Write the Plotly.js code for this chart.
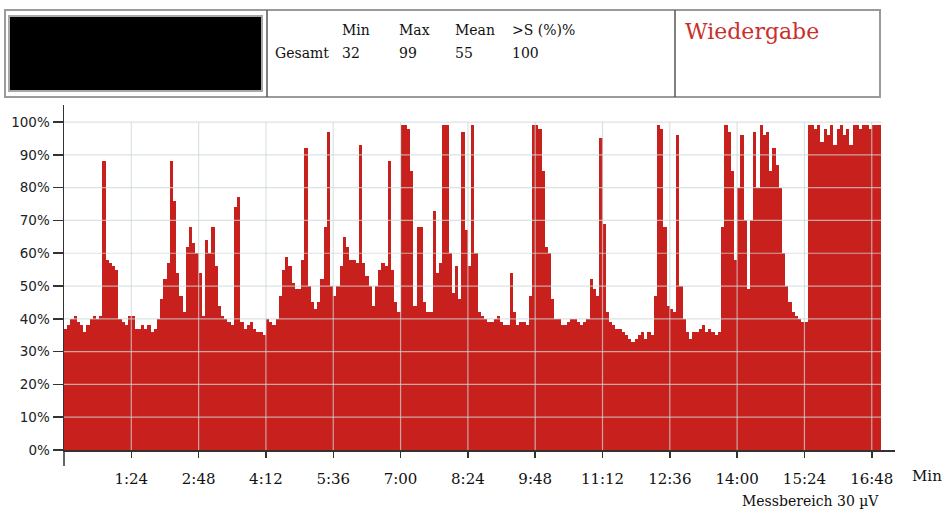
<!DOCTYPE html>
<html>
<head>
<meta charset="utf-8">
<script src="https://cdn.plot.ly/plotly-3.0.1.min.js"></script>
<style>
  html, body { margin: 0; padding: 0; background: #ffffff; }
  #chart { width: 943px; height: 512px; }
</style>
</head>
<body>
<div id="chart"></div>
<script>
// ---- data ----
const SAMPLE_SEC = 4; // one value every 4 seconds
const emgPercent = [
  37,38,40,41,39,38,36,38,40,41,
  40,41,88,58,57,56,55,40,39,38,
  41,41,37,37,38,37,38,36,37,40,
  46,52,57,88,76,54,47,42,62,68,
  63,60,54,41,64,60,68,56,44,41,
  40,39,38,74,77,39,37,38,39,37,
  36,36,35,40,39,38,40,47,55,59,
  56,51,49,49,58,92,50,45,43,45,
  52,68,97,50,47,50,56,65,62,58,
  58,57,93,57,53,50,44,50,55,57,
  56,88,55,45,42,99,99,98,85,44,
  68,68,45,42,42,73,54,57,99,99,
  60,48,56,46,97,67,56,99,60,42,
  41,40,39,39,40,41,39,38,38,54,
  42,38,39,39,38,47,99,99,98,85,
  62,60,46,40,40,38,38,39,40,40,
  39,38,39,40,52,49,47,95,69,42,
  39,38,37,37,36,35,34,33,34,35,
  36,34,36,35,47,99,98,68,44,43,
  42,96,50,40,36,34,36,36,37,38,
  36,37,36,35,36,68,99,97,85,58,
  80,96,70,49,70,97,80,99,96,97,
  85,92,87,80,60,50,45,42,41,40,
  39,39,99,99,98,99,94,98,96,99,
  93,98,99,96,98,93,99,99,98,99,
  99,98,99,99,99
];
const xTickVals = [84,168,252,336,420,504,588,672,756,840,924,1008];
const xTickText = ['1:24','2:48','4:12','5:36','7:00','8:24','9:48','11:12','12:36','14:00','15:24','16:48'];
const yTickVals = [0,10,20,30,40,50,60,70,80,90,100];
const yTickText = ['0%','10%','20%','30%','40%','50%','60%','70%','80%','90%','100%'];
const statHeaders = ['Min','Max','Mean','>S (%)%'];
const statRowLabel = 'Gesamt';
const statValues = ['32','99','55','100'];
const panelTitle = 'Wiedergabe';
const xUnit = 'Min';
const rangeNote = 'Messbereich 30 µV';

// ---- layout geometry ----
const W = 943, H = 512;
const M = { l: 64, r: 48, t: 105, b: 62 };
const PW = W - M.l - M.r, PH = H - M.t - M.b;
const fx = px => (px - M.l) / PW;
const fy = py => (H - M.b - py) / PH;

const timeSec = emgPercent.map((_, i) => i * SAMPLE_SEC);
const dataEnd = emgPercent.length * SAMPLE_SEC;

const RED = '#c8211d';
const GRID = 'rgba(205,215,215,0.72)';

const trace = {
  type: 'bar',
  x: timeSec,
  y: emgPercent,
  width: SAMPLE_SEC,
  offset: 0,
  marker: { color: RED, line: { width: 0 } },
  hoverinfo: 'skip'
};

const shapes = [];
// gridlines drawn above the fill, like the reference
yTickVals.filter(v => v > 0).forEach(v => shapes.push({
  type: 'line', xref: 'x', yref: 'y', x0: 0, x1: dataEnd, y0: v, y1: v,
  line: { color: GRID, width: 1.2 }, layer: 'above'
}));
xTickVals.forEach(v => shapes.push({
  type: 'line', xref: 'x', yref: 'y', x0: v, x1: v, y0: 0, y1: 100,
  line: { color: GRID, width: 1.2 }, layer: 'above'
}));
// y axis extension below the x axis
shapes.push({ type: 'line', xref: 'paper', yref: 'paper', x0: 0, x1: 0, y0: 0, y1: fy(466),
  line: { color: '#333', width: 1.5 } });

// header box
shapes.push({ type: 'rect', xref: 'paper', yref: 'paper',
  x0: fx(5), x1: fx(880), y0: fy(97), y1: fy(10),
  line: { color: '#9a9a9a', width: 2 }, fillcolor: 'rgba(0,0,0,0)' });
shapes.push({ type: 'rect', xref: 'paper', yref: 'paper',
  x0: fx(9), x1: fx(262), y0: fy(91), y1: fy(16),
  line: { color: '#a8a8a8', width: 2 }, fillcolor: '#000000' });
[267, 675].forEach(px => shapes.push({ type: 'line', xref: 'paper', yref: 'paper',
  x0: fx(px), x1: fx(px), y0: fy(97), y1: fy(10),
  line: { color: '#555555', width: 1.5 } }));

const serif = 'DejaVu Serif, Liberation Serif, serif';
const annotations = [];
const colX = [340, 397, 453, 510];
statHeaders.forEach((t, i) => annotations.push({
  xref: 'paper', yref: 'paper', x: fx(colX[i]), y: fy(30), xanchor: 'left', yanchor: 'middle',
  text: t, showarrow: false, font: { family: serif, size: 14, color: '#111' }
}));
annotations.push({ xref: 'paper', yref: 'paper', x: fx(273), y: fy(53), xanchor: 'left', yanchor: 'middle',
  text: statRowLabel, showarrow: false, font: { family: serif, size: 14, color: '#111' } });
statValues.forEach((t, i) => annotations.push({
  xref: 'paper', yref: 'paper', x: fx(colX[i]), y: fy(53), xanchor: 'left', yanchor: 'middle',
  text: t, showarrow: false, font: { family: serif, size: 14, color: '#111' }
}));
annotations.push({ xref: 'paper', yref: 'paper', x: fx(683), y: fy(31), xanchor: 'left', yanchor: 'middle',
  text: panelTitle, showarrow: false, font: { family: serif, size: 22, color: '#c8302c' } });
annotations.push({ xref: 'paper', yref: 'paper', x: fx(910), y: fy(476), xanchor: 'left', yanchor: 'middle',
  text: xUnit, showarrow: false, font: { family: serif, size: 15, color: '#111' } });
annotations.push({ xref: 'paper', yref: 'paper', x: fx(740), y: fy(501), xanchor: 'left', yanchor: 'middle',
  text: rangeNote, showarrow: false, font: { family: serif, size: 14, color: '#111' } });

const layout = {
  width: W, height: H,
  margin: M,
  paper_bgcolor: '#ffffff', plot_bgcolor: '#ffffff',
  showlegend: false,
  bargap: 0,
  xaxis: {
    range: [0, 1037], tickmode: 'array', tickvals: xTickVals, ticktext: xTickText,
    showgrid: false, zeroline: false, showline: true, linecolor: '#333', linewidth: 1.5,
    ticks: 'outside', ticklen: 6, tickcolor: '#333', tickwidth: 1.5,
    ticklabelstandoff: 8,
    tickfont: { family: serif, size: 15, color: '#111' }, fixedrange: true
  },
  yaxis: {
    range: [0, 105.2], tickmode: 'array', tickvals: yTickVals, ticktext: yTickText,
    showgrid: false, zeroline: false, showline: true, linecolor: '#333', linewidth: 1.5,
    ticks: 'outside', ticklen: 10, tickcolor: '#333', tickwidth: 1.5,
    tickfont: { family: 'DejaVu Sans, Verdana, sans-serif', size: 13.5, color: '#222' }, fixedrange: true
  },
  shapes: shapes,
  annotations: annotations
};

Plotly.newPlot('chart', [trace], layout, { displayModeBar: false, staticPlot: true });
</script>
</body>
</html>
